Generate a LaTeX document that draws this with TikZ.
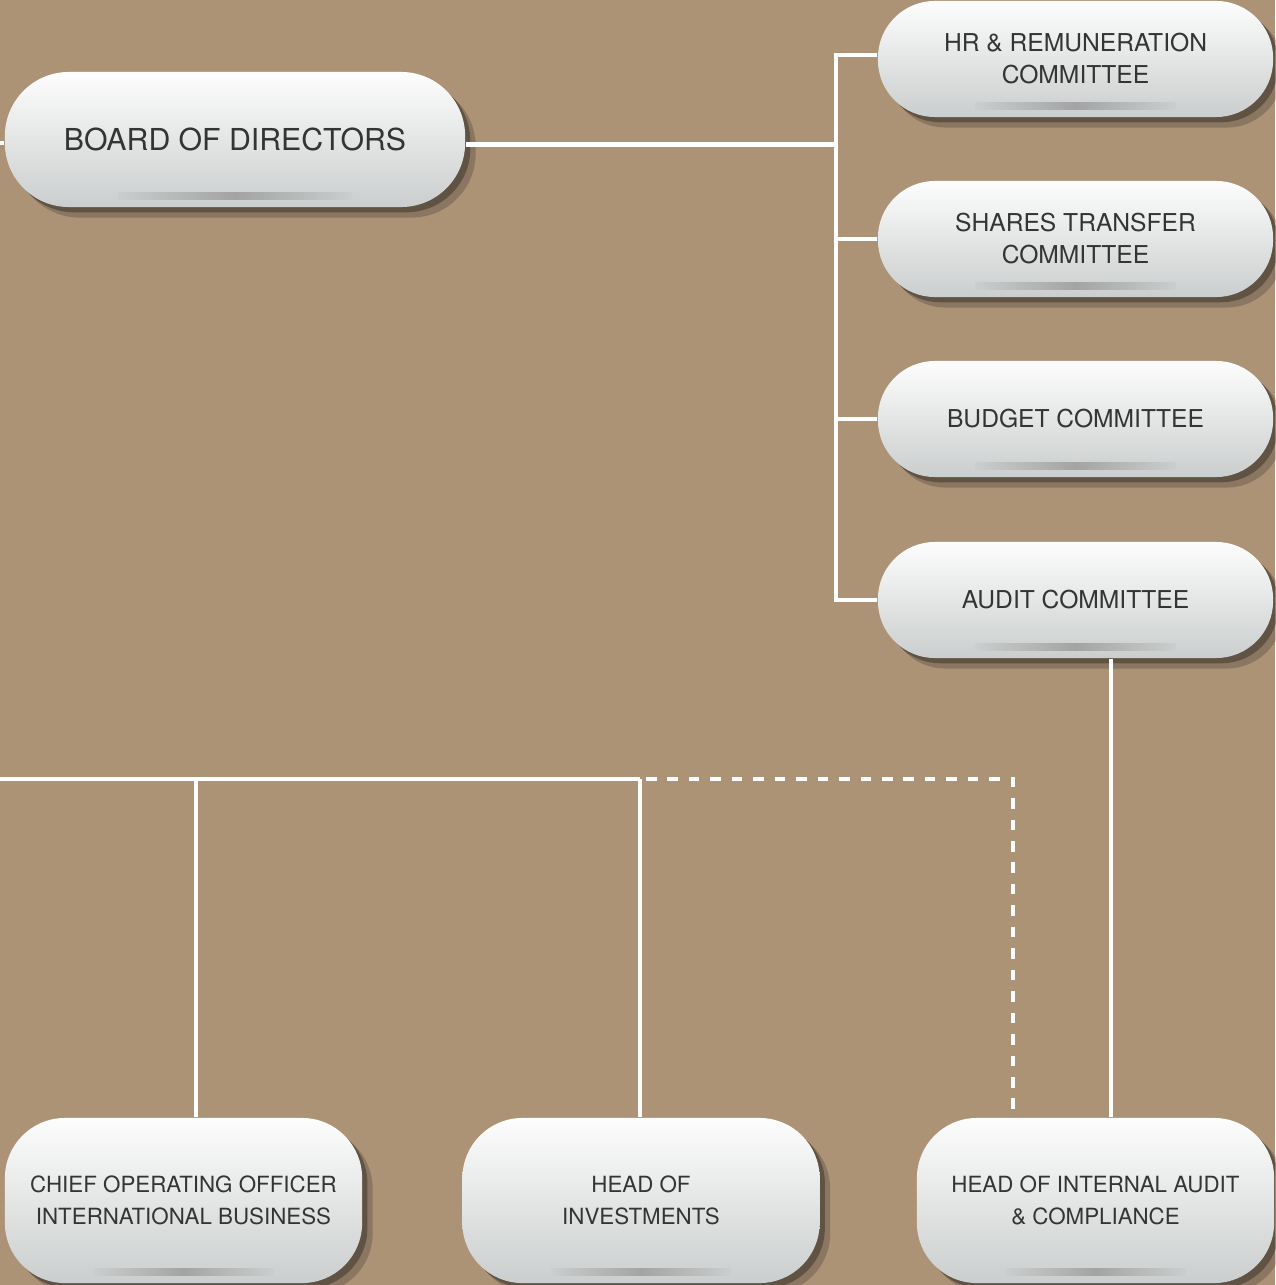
\documentclass[tikz,border=0pt]{standalone}
\usepackage{fontspec}
\setmainfont{TeX Gyre Heros}
\usetikzlibrary{calc,shadows}

\definecolor{bgbrown}{RGB}{173,147,118}
\definecolor{boxtop}{RGB}{253,253,253}
\definecolor{boxbot}{RGB}{203,206,206}
\definecolor{txtgray}{RGB}{52,52,52}

\newcommand\boxbar[2]{\shade[left color=boxbot,right color=boxbot,middle color=black!36]
  ($(#1.south)+(-#2,-15)$) rectangle ($(#1.south)+(#2,-8)$);}

\begin{document}
\begin{tikzpicture}[x=0.01cm,y=-0.01cm,
    box/.style={rectangle,inner sep=0pt,align=center,text=txtgray,
      top color=boxtop,bottom color=boxbot,
      drop shadow={shadow xshift=3pt,shadow yshift=-3pt,opacity=.25,fill=black!85},
      drop shadow={shadow xshift=1.5pt,shadow yshift=-1.5pt,opacity=.3,fill=black}},
    cbox/.style={box,minimum width=3.95cm,minimum height=1.16cm,rounded corners=0.57cm,
      font=\fontsize{7}{9.1}\selectfont},
    bbox/.style={box,minimum width=3.57cm,minimum height=1.65cm,rounded corners=0.6cm,
      font=\fontsize{6.35}{9.1}\selectfont},
    link/.style={draw=white,line width=1.15pt},
    dashlink/.style={link,dash pattern=on 3pt off 3.1pt}]
            \fill[bgbrown] (0,0) rectangle (1275,1285);
            \useasboundingbox (0,0) rectangle (1275,1285);

            \node[box,minimum width=4.6cm,minimum height=1.35cm,rounded corners=0.64cm,
              font=\fontsize{8.6}{10}\selectfont] (board) at (235,139.5) {\raisebox{-2pt}{BOARD OF DIRECTORS}};

            \node[cbox] (hr) at (1075.5,59) {HR \& REMUNERATION\\COMMITTEE};
            \node[cbox] (shares) at (1075.5,239) {SHARES TRANSFER\\COMMITTEE};
            \node[cbox] (budget) at (1075.5,419) {BUDGET COMMITTEE};
            \node[cbox] (audit) at (1075.5,600) {AUDIT COMMITTEE};

            \node[bbox] (coo) at (183.5,1200.5) {CHIEF OPERATING OFFICER\\INTERNATIONAL BUSINESS};
            \node[bbox] (inv) at (641,1200.5) {HEAD OF\\INVESTMENTS};
            \node[bbox] (iac) at (1095.5,1200.5) {HEAD OF INTERNAL AUDIT\\\& COMPLIANCE};

            \boxbar{board}{117}
            \boxbar{hr}{100}
            \boxbar{shares}{100}
            \boxbar{budget}{100}
            \boxbar{audit}{100}
            \boxbar{coo}{90}
            \boxbar{inv}{90}
            \boxbar{iac}{90}

            \coordinate (west1) at (0,143);
            \coordinate (bus) at (836,55);
            \draw[link] (west1) -- (west1 -| board.west);
            \draw[link] ($(board.east)+(0,5)$) coordinate (b1) -- (b1 -| bus);
            \draw[link] ($(hr.west)+(0,-4)$) -- (bus) |- (audit.west);
            \draw[link] (shares.west) -- (shares.west -| bus);
            \draw[link] (budget.west) -- (budget.west -| bus);

            \coordinate (west2) at (0,779);
            \coordinate (j1) at (196,779);
            \coordinate (j2) at (640,779);
            \coordinate (j3) at (1013,779);
            \coordinate (a1) at (1111,0);
            \draw[link] (west2) -- (j2);
            \draw[link] (j1) -- (j1 |- coo.north);
            \draw[link] (j2) -- (j2 |- inv.north);
            \draw[dashlink] ($(j2)+(6,0)$) -- (j3) -- (j3 |- iac.north);
            \draw[link] (a1 |- audit.south) -- (a1 |- iac.north);
        \end{tikzpicture}
\end{document}
